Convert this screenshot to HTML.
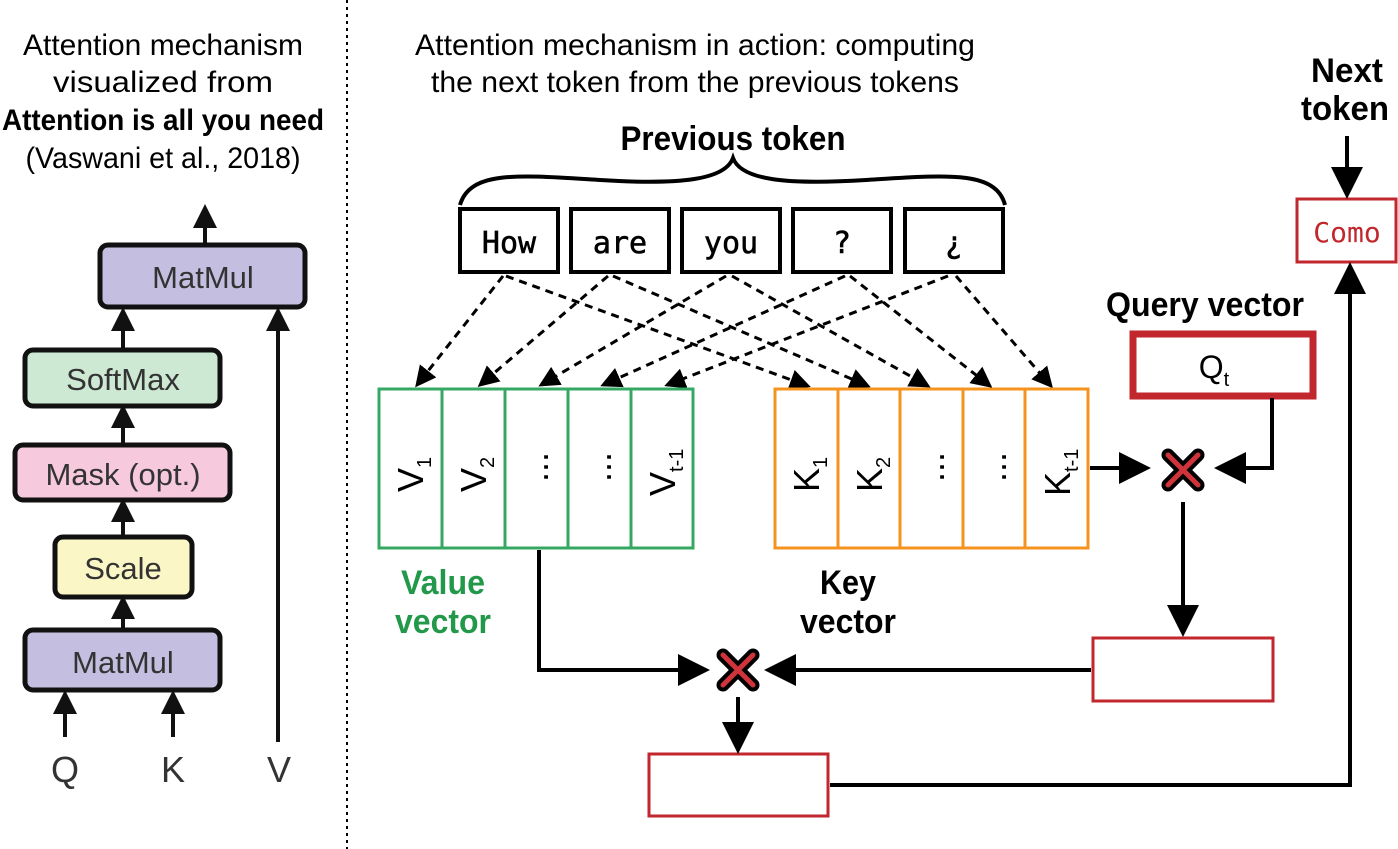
<!DOCTYPE html>
<html><head><meta charset="utf-8"><style>html,body{margin:0;padding:0;background:#fff}svg{display:block}</style></head>
<body>
<svg width="1398" height="849" viewBox="0 0 1398 849" xmlns="http://www.w3.org/2000/svg">
<defs>
<marker id="a" markerWidth="8" markerHeight="8" refX="7" refY="4" orient="auto" markerUnits="strokeWidth"><path d="M0,0 L8,4 L0,8 z" fill="#000"/></marker>
<marker id="d" markerWidth="7" markerHeight="7" refX="6" refY="3.5" orient="auto" markerUnits="strokeWidth"><path d="M0,0 L7,3.5 L0,7 z" fill="#000"/></marker>
<marker id="l" markerWidth="6" markerHeight="6" refX="5" refY="3" orient="auto" markerUnits="strokeWidth"><path d="M0,0 L6,3 L0,6 z" fill="#111"/></marker>
</defs>
<g font-family="Liberation Sans, sans-serif" fill="#000">
<line x1="347" y1="0" x2="347" y2="849" stroke="#000" stroke-width="2" stroke-dasharray="3,4"/>
<g font-size="30" text-anchor="middle">
<text x="163" y="55" textLength="280" lengthAdjust="spacingAndGlyphs">Attention mechanism</text>
<text x="163" y="92" textLength="220" lengthAdjust="spacingAndGlyphs">visualized from</text>
<text x="163" y="130" font-weight="bold" textLength="322" lengthAdjust="spacingAndGlyphs">Attention is all you need</text>
<text x="163" y="168" textLength="275" lengthAdjust="spacingAndGlyphs">(Vaswani et al., 2018)</text>
<text x="695" y="55" textLength="560" lengthAdjust="spacingAndGlyphs">Attention mechanism in action: computing</text>
<text x="695" y="92" textLength="528" lengthAdjust="spacingAndGlyphs">the next token from the previous tokens</text>
<text x="733" y="150" font-weight="bold" font-size="34" textLength="225" lengthAdjust="spacingAndGlyphs">Previous token</text>
<text x="1205" y="316" font-weight="bold" font-size="34" textLength="198" lengthAdjust="spacingAndGlyphs">Query vector</text>
<text x="1347" y="82" font-weight="bold" font-size="34" textLength="72" lengthAdjust="spacingAndGlyphs">Next</text>
<text x="1345" y="120" font-weight="bold" font-size="34" textLength="88" lengthAdjust="spacingAndGlyphs">token</text>
<text x="443" y="594" font-weight="bold" font-size="34" fill="#22994a" textLength="84" lengthAdjust="spacingAndGlyphs">Value</text>
<text x="443" y="633" font-weight="bold" font-size="34" fill="#22994a" textLength="96" lengthAdjust="spacingAndGlyphs">vector</text>
<text x="848" y="594" font-weight="bold" font-size="34" textLength="56" lengthAdjust="spacingAndGlyphs">Key</text>
<text x="848" y="633" font-weight="bold" font-size="34" textLength="96" lengthAdjust="spacingAndGlyphs">vector</text>
</g>
<g stroke="#111" stroke-width="5">
<rect x="100" y="245" width="205" height="62" rx="8" fill="#c4bfe0"/>
<rect x="25" y="350" width="195" height="56" rx="8" fill="#cde8d3"/>
<rect x="15" y="445" width="215" height="55" rx="8" fill="#f6c9dd"/>
<rect x="55" y="537" width="137" height="60" rx="8" fill="#fbf6c5"/>
<rect x="25" y="630" width="195" height="60" rx="8" fill="#c4bfe0"/>
</g>
<g font-size="31" fill="#333" text-anchor="middle">
<text x="203" y="288">MatMul</text>
<text x="123" y="390">SoftMax</text>
<text x="123" y="485">Mask (opt.)</text>
<text x="123" y="579">Scale</text>
<text x="123" y="673">MatMul</text>
<text x="65" y="782" font-size="36">Q</text>
<text x="173" y="782" font-size="36">K</text>
<text x="279" y="782" font-size="36">V</text>
</g>
<g stroke="#111" stroke-width="4" marker-end="url(#l)">
<line x1="205" y1="243" x2="205" y2="208"/>
<line x1="123" y1="348" x2="123" y2="311"/>
<line x1="123" y1="443" x2="123" y2="408"/>
<line x1="123" y1="535" x2="123" y2="502"/>
<line x1="123" y1="628" x2="123" y2="599"/>
<line x1="65" y1="737" x2="65" y2="694"/>
<line x1="173" y1="737" x2="173" y2="694"/>
<line x1="278" y1="742" x2="278" y2="311"/>
</g>
<path d="M460,205 C470,170 520,175 600,180 C680,185 725,180 733,158 C741,180 786,185 866,180 C946,175 996,170 1005,205" fill="none" stroke="#000" stroke-width="4"/>
<g fill="#fff" stroke="#000" stroke-width="4">
<rect x="460" y="209" width="98" height="63"/>
<rect x="571" y="209" width="98" height="63"/>
<rect x="682" y="209" width="98" height="63"/>
<rect x="793" y="209" width="98" height="63"/>
<rect x="905" y="209" width="98" height="63"/>
</g>
<g font-family="DejaVu Sans Mono, Liberation Mono, monospace" font-size="30" text-anchor="middle" stroke="#000" stroke-width="0.6">
<text x="509" y="253">How</text><text x="620" y="253">are</text><text x="731" y="253">you</text><text x="842" y="253">?</text><text x="954" y="253">¿</text>
</g>
<g stroke="#000" stroke-width="3" stroke-dasharray="8,6" fill="none" marker-end="url(#d)">
<line x1="503" y1="276" x2="417" y2="385"/>
<line x1="506" y1="276" x2="808" y2="386"/>
<line x1="608" y1="276" x2="480" y2="385"/>
<line x1="613" y1="276" x2="868" y2="386"/>
<line x1="726" y1="276" x2="541" y2="385"/>
<line x1="732" y1="276" x2="928" y2="386"/>
<line x1="845" y1="276" x2="603" y2="385"/>
<line x1="850" y1="276" x2="990" y2="386"/>
<line x1="948" y1="276" x2="667" y2="385"/>
<line x1="956" y1="276" x2="1051" y2="386"/>
</g>
<g fill="none" stroke="#34a862" stroke-width="3">
<rect x="379" y="389" width="314" height="159"/>
<line x1="442" y1="389" x2="442" y2="548"/><line x1="505" y1="389" x2="505" y2="548"/>
<line x1="568" y1="389" x2="568" y2="548"/><line x1="631" y1="389" x2="631" y2="548"/>
</g>
<g fill="none" stroke="#f6931e" stroke-width="3">
<rect x="775" y="389" width="313" height="159"/>
<line x1="838" y1="389" x2="838" y2="548"/><line x1="900" y1="389" x2="900" y2="548"/>
<line x1="963" y1="389" x2="963" y2="548"/><line x1="1025" y1="389" x2="1025" y2="548"/>
</g>
<g font-size="36">
<text transform="translate(423,492) rotate(-90)">V<tspan font-size="20" dy="8">1</tspan></text>
<text transform="translate(486,492) rotate(-90)">V<tspan font-size="20" dy="8">2</tspan></text>
<text transform="translate(548,482) rotate(-90)">...</text>
<text transform="translate(611,482) rotate(-90)">...</text>
<text transform="translate(675,496) rotate(-90)">V<tspan font-size="20" dy="8">t-1</tspan></text>
<text transform="translate(819,492) rotate(-90)">K<tspan font-size="20" dy="8">1</tspan></text>
<text transform="translate(882,492) rotate(-90)">K<tspan font-size="20" dy="8">2</tspan></text>
<text transform="translate(944,482) rotate(-90)">...</text>
<text transform="translate(1006,482) rotate(-90)">...</text>
<text transform="translate(1070,496) rotate(-90)">K<tspan font-size="20" dy="8">t-1</tspan></text>
</g>
<rect x="1133" y="334" width="180" height="62" fill="#fff" stroke="#c1272d" stroke-width="7"/>
<text x="1214" y="378" font-size="32" text-anchor="middle">Q<tspan font-size="20" dy="8">t</tspan></text>
<rect x="1297" y="199" width="99" height="63" fill="#fff" stroke="#c1272d" stroke-width="3"/>
<text x="1347" y="242" font-family="DejaVu Sans Mono, Liberation Mono, monospace" font-size="28" fill="#c1272d" text-anchor="middle">Como</text>
<rect x="1093" y="638" width="180" height="63" fill="#fff" stroke="#c1272d" stroke-width="3"/>
<rect x="649" y="754" width="179" height="62" fill="#fff" stroke="#c1272d" stroke-width="3"/>
<g stroke="#000" stroke-width="4" fill="none" marker-end="url(#a)">
<line x1="1347" y1="136" x2="1347" y2="195"/>
<line x1="1090" y1="468" x2="1147" y2="468"/>
<polyline points="1272,398 1272,468 1218,468"/>
<line x1="1183" y1="502" x2="1183" y2="633"/>
<line x1="1091" y1="670" x2="768" y2="670"/>
<polyline points="539,550 539,670 706,670"/>
<line x1="738" y1="697" x2="738" y2="750"/>
<polyline points="830,785 1350,785 1350,266"/>
</g>
<g stroke-linecap="round">
<g stroke="#000" stroke-width="13"><line x1="1168" y1="455" x2="1198" y2="485"/><line x1="1198" y1="455" x2="1168" y2="485"/>
<line x1="723" y1="655" x2="753" y2="685"/><line x1="753" y1="655" x2="723" y2="685"/></g>
<g stroke="#d0343b" stroke-width="5"><line x1="1168" y1="455" x2="1198" y2="485"/><line x1="1198" y1="455" x2="1168" y2="485"/>
<line x1="723" y1="655" x2="753" y2="685"/><line x1="753" y1="655" x2="723" y2="685"/></g>
</g>
</g>
</svg>
</body></html>
